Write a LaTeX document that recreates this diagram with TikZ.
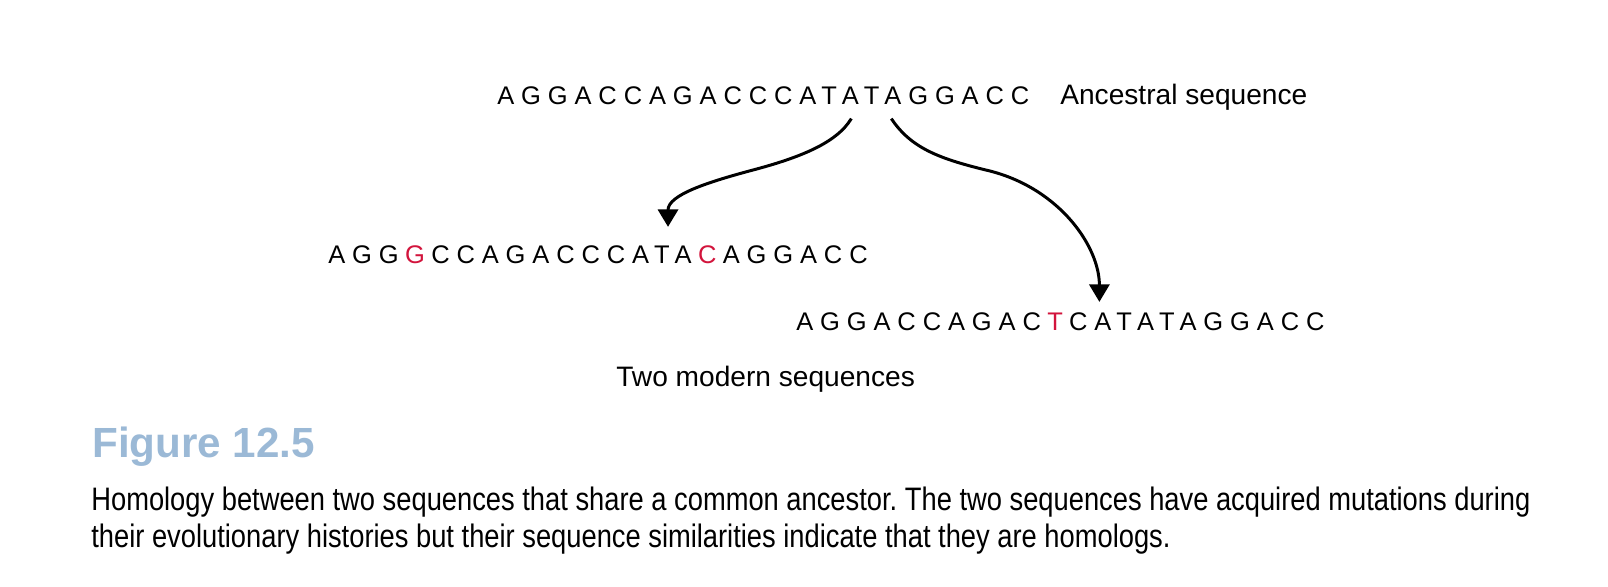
\documentclass[tikz,border=0pt]{standalone}
\usepackage{fontspec}
\setmainfont{Liberation Sans}
\newfontfamily\seqfont[LetterSpace=27]{Liberation Sans}
\newfontfamily\capfont[FakeStretch=0.84]{Liberation Sans}
\usetikzlibrary{arrows.meta, positioning}
\definecolor{mutred}{RGB}{210,20,60}
\definecolor{figblue}{RGB}{155,185,214}
\newcommand{\mut}[1]{\kern.25em\textcolor{mutred}{#1}\kern.25em}

\begin{document}
\begin{tikzpicture}[x=0.2mm, y=-0.2mm,
        seq/.style={inner sep=0pt, anchor=base west, font=\seqfont\fontsize{14.5}{18}\selectfont},
        lbl/.style={inner sep=0pt, anchor=base west, font=\fontsize{16}{19}\selectfont},
        branch/.style={line width=1.7pt, -{Triangle[length=10pt, width=11.5pt]}}]
        \useasboundingbox (0,0) rectangle (1608,586);

        % Secuencias
        \node[seq] (anc) at (497,104) {AGGACCAGACCCATATAGGACC};
        \node[lbl] (ancl) at (1060,104) {Ancestral sequence};
        \node[seq] (modA) at (328,263) {AGG\mut{G}CCAGACCCATA\mut{C}AGGACC};
        \node[seq] (modB) at (796,330) {AGGACCAGAC\mut{T}CATATAGGACC};
        \node[lbl] (modl) at (616,386) {Two modern sequences};

        % Ramas
        \coordinate (fromL) at ([shift={(88,14)}]anc.south);
        \coordinate (fromR) at ([shift={(128,14)}]anc.south);
        \coordinate (midL) at (753,170);
        \coordinate (midR) at (990,171);
        \coordinate (toL) at ([shift={(70,-18)}]modA.north);
        \coordinate (toR) at ([shift={(39,-10)}]modB.north);
        \draw[branch] (fromL) .. controls +(-15,25) and +(45,-12) .. (midL)
            .. controls +(-45,12) and +(0,-32) .. (toL);
        \draw[branch] (fromR) .. controls +(20,30) and +(-50,-12) .. (midR)
            .. controls +(70,18) and +(0,-55) .. (toR);

        % Leyenda
        \node[anchor=base west, inner sep=0pt, text=figblue, font=\bfseries\fontsize{24}{29}\selectfont] (fig) at (92,457) {Figure 12.5};
        \node[anchor=base west, inner sep=0pt, align=left, font=\capfont\frenchspacing\fontsize{18.5}{21}\selectfont] (cap) at (91,547)
            {Homology between two sequences that share a common ancestor. The two sequences have acquired mutations during\\
             their evolutionary histories but their sequence similarities indicate that they are homologs.};
\end{tikzpicture}
\end{document}
